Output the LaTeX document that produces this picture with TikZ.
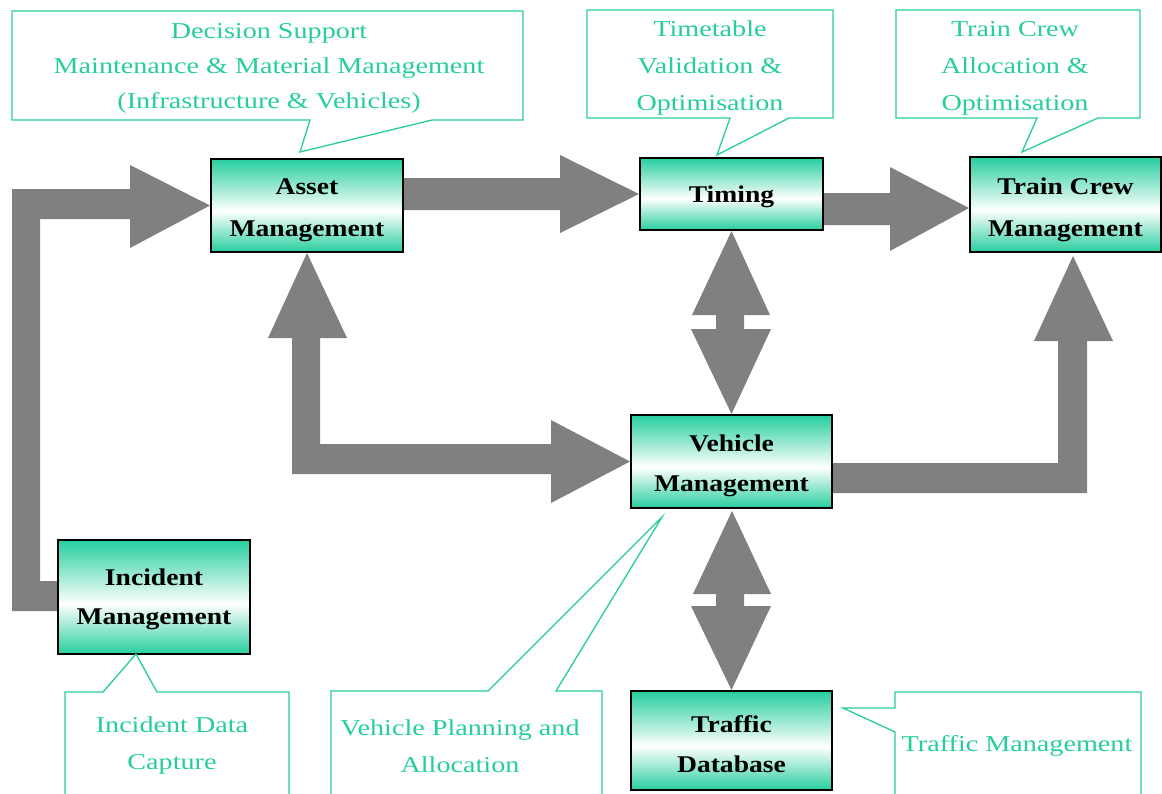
\documentclass[tikz,border=0pt]{standalone}
\usepackage{fontspec}
\newfontfamily\calloutfont{Liberation Serif}[FakeStretch=1.24]
\newfontfamily\labelfont{Liberation Serif}[FakeStretch=1.15]
\definecolor{tealone}{RGB}{38,206,158}
\definecolor{arrowgray}{RGB}{128,128,128}
\pgfdeclareverticalshading{boxshade}{100bp}{color(0bp)=(tealone); color(25bp)=(tealone); color(47bp)=(white); color(75bp)=(tealone); color(100bp)=(tealone)}
\pgfdeclarelayer{paper}
\pgfdeclarelayer{bg}
\pgfsetlayers{paper,bg,main}
\tikzset{
  box/.style={draw=black, line width=2pt, shading=boxshade, inner sep=0pt},
  lbl/.style={align=center, inner sep=0pt, text=black,
    font=\labelfont\bfseries\fontsize{24}{42}\selectfont},
  callout/.style={draw=tealone, line width=1.3pt, fill=white, line join=miter},
  ctext/.style={text=tealone, align=center, inner sep=0pt,
    font=\calloutfont\fontsize{22.7}{37}\selectfont},
  blockarrow/.style={fill=arrowgray, draw=none},
}
\begin{document}
\begin{tikzpicture}[x=1pt,y=-1pt]
\clip (0,0) rectangle (1162,793);
\begin{pgfonlayer}{paper}
\fill[white] (0,0) rectangle (1162,793);
\end{pgfonlayer}

% boxes
\node[box, minimum width=192pt, minimum height=93pt,
  label={[lbl, yshift=-5pt]center:{Asset\\Management}}] (asset) at (307,205.5) {};
\node[box, minimum width=183pt, minimum height=72pt,
  label={[lbl, yshift=-3pt]center:{Timing}}] (timing) at (731.5,194) {};
\node[box, minimum width=191pt, minimum height=95pt,
  label={[lbl, yshift=-5pt]center:{Train Crew\\Management}}] (trainc) at (1065.5,204.5) {};
\node[box, minimum width=201pt, minimum height=93pt,
  label={[lbl, yshift=-4pt, font=\labelfont\bfseries\fontsize{24}{40}\selectfont]center:{Vehicle\\Management}}] (vehicle) at (731.5,461.5) {};
\node[box, minimum width=192pt, minimum height=114pt,
  label={[lbl, yshift=-2pt, font=\labelfont\bfseries\fontsize{24}{39}\selectfont]center:{Incident\\Management}}] (incident) at (154,597) {};
\node[box, minimum width=201pt, minimum height=99pt,
  label={[lbl, yshift=-4pt, font=\labelfont\bfseries\fontsize{24}{40}\selectfont]center:{Traffic\\Database}}] (traffic) at (731.5,740.5) {};

% block arrows
\begin{pgfonlayer}{bg}
\fill[blockarrow] (incident.west |- 0,581) -- (40,581) -- (40,219) -- (130,219) -- (130,248)
  -- (asset.west) -- (130,165) -- (130,189) -- (12,189) -- (12,611) -- (incident.west |- 0,611) -- cycle;
\fill[blockarrow] (asset.east |- 0,178) -- (560,178) -- (560,155) -- (timing.west) -- (560,233)
  -- (560,210) -- (asset.east |- 0,210) -- cycle;
\fill[blockarrow] (timing.east |- 0,193) -- (890,193) -- (890,167) -- (trainc.west |- 0,208) -- (890,251)
  -- (890,225) -- (timing.east |- 0,225) -- cycle;
\fill[blockarrow] (asset.south) -- (347,338) -- (320,338) -- (320,444) -- (551,444) -- (551,420)
  -- (vehicle.west) -- (551,503) -- (551,474) -- (292,474) -- (292,338) -- (268,338) -- cycle;
\fill[blockarrow] (timing.south) -- (770,315) -- (744,315) -- (744,329) -- (771,329) -- (vehicle.north)
  -- (691,329) -- (716,329) -- (716,315) -- (692,315) -- cycle;
\fill[blockarrow] (732,511) -- (771,594) -- (744,594) -- (744,606) -- (771,606) -- (traffic.north)
  -- (691,606) -- (716,606) -- (716,594) -- (693,594) -- cycle;
\fill[blockarrow] (vehicle.east |- 0,463) -- (1058,463) -- (1058,341) -- (1034,341) -- (1073,256)
  -- (1113,341) -- (1087,341) -- (1087,493) -- (vehicle.east |- 0,493) -- cycle;
\end{pgfonlayer}

% callouts
\draw[callout] (12,11) -- (523,11) -- (523,120) -- (432,120) -- (300,152) -- (310,120) -- (12,120) -- cycle;
\node[ctext, font=\calloutfont\fontsize{22.7}{35}\selectfont] (dstext) at (269,68) {Decision Support\\Maintenance \& Material Management\\(Infrastructure \& Vehicles)};

\draw[callout] (587,10) -- (833,10) -- (833,118) -- (789,118) -- (717,155) -- (730,118) -- (587,118) -- cycle;
\node[ctext] (tttext) at (710,68) {Timetable\\Validation \&\\Optimisation};

\draw[callout] (896,10) -- (1140,10) -- (1140,118) -- (1098,118) -- (1022,152) -- (1037,118) -- (896,118) -- cycle;
\node[ctext] (tctext) at (1015,68) {Train Crew\\Allocation \&\\Optimisation};

\draw[callout] (65,692) -- (103,692) -- (136,654) -- (157,692) -- (289,692) -- (289,800) -- (65,800) -- cycle;
\node[ctext] (idtext) at (172,746) {Incident Data\\Capture};

\draw[callout] (331,691) -- (488,691) -- (662,517) -- (556,691) -- (602,691) -- (602,800) -- (331,800) -- cycle;
\node[ctext] (vptext) at (460,746) {Vehicle Planning and\\Allocation};

\draw[callout] (895,692) -- (1141,692) -- (1141,800) -- (895,800) -- (895,732) -- (843,708) -- (895,708) -- cycle;
\node[ctext] (tmtext) at (1017,746) {Traffic Management};
\end{tikzpicture}
\end{document}
